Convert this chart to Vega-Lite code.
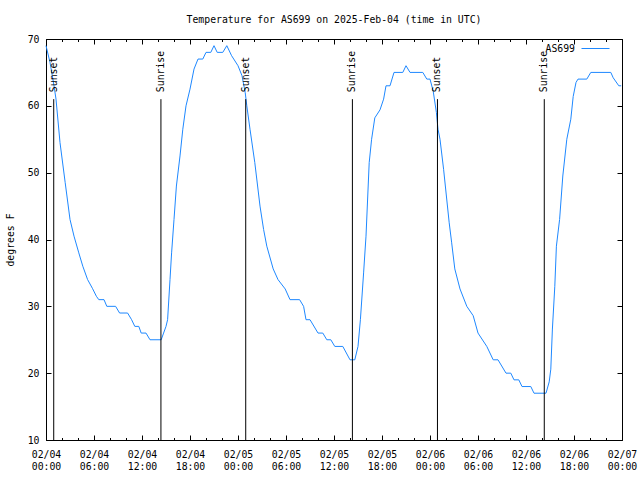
{
  "$schema": "https://vega.github.io/schema/vega-lite/v6.json",
  "width": 576,
  "height": 401,
  "autosize": "none",
  "padding": {"left": 46, "top": 39, "right": 18, "bottom": 40},
  "background": "white",
  "config": {
    "font": "DejaVu Sans Mono",
    "view": {"stroke": "black", "strokeWidth": 1},
    "axis": {
      "domain": false,
      "grid": false,
      "labelFont": "DejaVu Sans Mono",
      "labelFontSize": 9.8,
      "labelColor": "black",
      "tickColor": "black",
      "tickWidth": 1,
      "titleFont": "DejaVu Sans Mono",
      "titleFontSize": 9.8,
      "titleFontWeight": "normal",
      "titleColor": "black"
    },
    "text": {"font": "DejaVu Sans Mono", "fontSize": 9.8, "color": "black"}
  },
  "title": {
    "text": "Temperature for AS699 on 2025-Feb-04 (time in UTC)",
    "font": "DejaVu Sans Mono",
    "fontSize": 9.8,
    "fontWeight": "normal",
    "color": "black",
    "anchor": "middle",
    "offset": 9
  },
  "datasets": {
    "temps": [
      {"t": "2025-02-04T00:00:00Z", "temp": 69, "series": "AS699"},
      {"t": "2025-02-04T00:30:00Z", "temp": 66.5, "series": "AS699"},
      {"t": "2025-02-04T01:00:00Z", "temp": 63, "series": "AS699"},
      {"t": "2025-02-04T01:15:00Z", "temp": 61, "series": "AS699"},
      {"t": "2025-02-04T01:45:00Z", "temp": 54.5, "series": "AS699"},
      {"t": "2025-02-04T02:24:00Z", "temp": 48.5, "series": "AS699"},
      {"t": "2025-02-04T03:00:00Z", "temp": 43, "series": "AS699"},
      {"t": "2025-02-04T03:30:00Z", "temp": 40.5, "series": "AS699"},
      {"t": "2025-02-04T04:06:00Z", "temp": 38, "series": "AS699"},
      {"t": "2025-02-04T04:36:00Z", "temp": 36, "series": "AS699"},
      {"t": "2025-02-04T05:12:00Z", "temp": 34, "series": "AS699"},
      {"t": "2025-02-04T05:48:00Z", "temp": 32.7, "series": "AS699"},
      {"t": "2025-02-04T06:18:00Z", "temp": 31.5, "series": "AS699"},
      {"t": "2025-02-04T06:36:00Z", "temp": 31, "series": "AS699"},
      {"t": "2025-02-04T07:15:00Z", "temp": 31, "series": "AS699"},
      {"t": "2025-02-04T07:36:00Z", "temp": 30, "series": "AS699"},
      {"t": "2025-02-04T08:42:00Z", "temp": 30, "series": "AS699"},
      {"t": "2025-02-04T09:12:00Z", "temp": 29, "series": "AS699"},
      {"t": "2025-02-04T10:12:00Z", "temp": 29, "series": "AS699"},
      {"t": "2025-02-04T10:42:00Z", "temp": 28, "series": "AS699"},
      {"t": "2025-02-04T11:06:00Z", "temp": 27, "series": "AS699"},
      {"t": "2025-02-04T11:36:00Z", "temp": 27, "series": "AS699"},
      {"t": "2025-02-04T11:54:00Z", "temp": 26, "series": "AS699"},
      {"t": "2025-02-04T12:30:00Z", "temp": 26, "series": "AS699"},
      {"t": "2025-02-04T13:00:00Z", "temp": 25, "series": "AS699"},
      {"t": "2025-02-04T14:24:00Z", "temp": 25, "series": "AS699"},
      {"t": "2025-02-04T14:42:00Z", "temp": 26, "series": "AS699"},
      {"t": "2025-02-04T15:00:00Z", "temp": 27, "series": "AS699"},
      {"t": "2025-02-04T15:12:00Z", "temp": 28, "series": "AS699"},
      {"t": "2025-02-04T15:30:00Z", "temp": 34, "series": "AS699"},
      {"t": "2025-02-04T15:42:00Z", "temp": 38, "series": "AS699"},
      {"t": "2025-02-04T16:00:00Z", "temp": 43, "series": "AS699"},
      {"t": "2025-02-04T16:18:00Z", "temp": 48, "series": "AS699"},
      {"t": "2025-02-04T16:45:00Z", "temp": 52.5, "series": "AS699"},
      {"t": "2025-02-04T17:06:00Z", "temp": 56.5, "series": "AS699"},
      {"t": "2025-02-04T17:30:00Z", "temp": 60, "series": "AS699"},
      {"t": "2025-02-04T18:00:00Z", "temp": 62.5, "series": "AS699"},
      {"t": "2025-02-04T18:30:00Z", "temp": 65.5, "series": "AS699"},
      {"t": "2025-02-04T19:00:00Z", "temp": 67, "series": "AS699"},
      {"t": "2025-02-04T19:36:00Z", "temp": 67, "series": "AS699"},
      {"t": "2025-02-04T20:00:00Z", "temp": 68, "series": "AS699"},
      {"t": "2025-02-04T20:36:00Z", "temp": 68, "series": "AS699"},
      {"t": "2025-02-04T21:00:00Z", "temp": 69, "series": "AS699"},
      {"t": "2025-02-04T21:24:00Z", "temp": 68, "series": "AS699"},
      {"t": "2025-02-04T22:06:00Z", "temp": 68, "series": "AS699"},
      {"t": "2025-02-04T22:36:00Z", "temp": 69, "series": "AS699"},
      {"t": "2025-02-04T23:12:00Z", "temp": 67.5, "series": "AS699"},
      {"t": "2025-02-05T00:00:00Z", "temp": 66, "series": "AS699"},
      {"t": "2025-02-05T00:30:00Z", "temp": 64.5, "series": "AS699"},
      {"t": "2025-02-05T00:54:00Z", "temp": 62, "series": "AS699"},
      {"t": "2025-02-05T01:06:00Z", "temp": 60, "series": "AS699"},
      {"t": "2025-02-05T01:30:00Z", "temp": 56.5, "series": "AS699"},
      {"t": "2025-02-05T02:06:00Z", "temp": 51.5, "series": "AS699"},
      {"t": "2025-02-05T02:45:00Z", "temp": 45, "series": "AS699"},
      {"t": "2025-02-05T03:12:00Z", "temp": 41.5, "series": "AS699"},
      {"t": "2025-02-05T03:36:00Z", "temp": 39, "series": "AS699"},
      {"t": "2025-02-05T04:24:00Z", "temp": 35.6, "series": "AS699"},
      {"t": "2025-02-05T05:00:00Z", "temp": 34, "series": "AS699"},
      {"t": "2025-02-05T05:54:00Z", "temp": 32.6, "series": "AS699"},
      {"t": "2025-02-05T06:30:00Z", "temp": 31, "series": "AS699"},
      {"t": "2025-02-05T07:42:00Z", "temp": 31, "series": "AS699"},
      {"t": "2025-02-05T08:12:00Z", "temp": 30, "series": "AS699"},
      {"t": "2025-02-05T08:30:00Z", "temp": 28, "series": "AS699"},
      {"t": "2025-02-05T09:00:00Z", "temp": 28, "series": "AS699"},
      {"t": "2025-02-05T10:00:00Z", "temp": 26, "series": "AS699"},
      {"t": "2025-02-05T10:36:00Z", "temp": 26, "series": "AS699"},
      {"t": "2025-02-05T11:06:00Z", "temp": 25, "series": "AS699"},
      {"t": "2025-02-05T11:36:00Z", "temp": 25, "series": "AS699"},
      {"t": "2025-02-05T12:06:00Z", "temp": 24, "series": "AS699"},
      {"t": "2025-02-05T13:06:00Z", "temp": 24, "series": "AS699"},
      {"t": "2025-02-05T14:00:00Z", "temp": 22, "series": "AS699"},
      {"t": "2025-02-05T14:36:00Z", "temp": 22, "series": "AS699"},
      {"t": "2025-02-05T15:00:00Z", "temp": 24, "series": "AS699"},
      {"t": "2025-02-05T15:18:00Z", "temp": 28, "series": "AS699"},
      {"t": "2025-02-05T15:42:00Z", "temp": 35, "series": "AS699"},
      {"t": "2025-02-05T16:00:00Z", "temp": 40.5, "series": "AS699"},
      {"t": "2025-02-05T16:24:00Z", "temp": 51.5, "series": "AS699"},
      {"t": "2025-02-05T16:42:00Z", "temp": 55, "series": "AS699"},
      {"t": "2025-02-05T17:06:00Z", "temp": 58.2, "series": "AS699"},
      {"t": "2025-02-05T17:45:00Z", "temp": 59.4, "series": "AS699"},
      {"t": "2025-02-05T18:12:00Z", "temp": 61, "series": "AS699"},
      {"t": "2025-02-05T18:30:00Z", "temp": 63, "series": "AS699"},
      {"t": "2025-02-05T19:00:00Z", "temp": 63, "series": "AS699"},
      {"t": "2025-02-05T19:30:00Z", "temp": 65, "series": "AS699"},
      {"t": "2025-02-05T20:36:00Z", "temp": 65, "series": "AS699"},
      {"t": "2025-02-05T21:00:00Z", "temp": 66, "series": "AS699"},
      {"t": "2025-02-05T21:30:00Z", "temp": 65, "series": "AS699"},
      {"t": "2025-02-05T23:06:00Z", "temp": 65, "series": "AS699"},
      {"t": "2025-02-05T23:36:00Z", "temp": 64, "series": "AS699"},
      {"t": "2025-02-06T00:00:00Z", "temp": 64, "series": "AS699"},
      {"t": "2025-02-06T00:24:00Z", "temp": 62.2, "series": "AS699"},
      {"t": "2025-02-06T00:48:00Z", "temp": 59, "series": "AS699"},
      {"t": "2025-02-06T01:00:00Z", "temp": 56.5, "series": "AS699"},
      {"t": "2025-02-06T01:15:00Z", "temp": 55, "series": "AS699"},
      {"t": "2025-02-06T01:42:00Z", "temp": 50.5, "series": "AS699"},
      {"t": "2025-02-06T02:24:00Z", "temp": 42.5, "series": "AS699"},
      {"t": "2025-02-06T02:42:00Z", "temp": 39.6, "series": "AS699"},
      {"t": "2025-02-06T03:06:00Z", "temp": 35.6, "series": "AS699"},
      {"t": "2025-02-06T03:45:00Z", "temp": 32.6, "series": "AS699"},
      {"t": "2025-02-06T04:36:00Z", "temp": 30, "series": "AS699"},
      {"t": "2025-02-06T05:24:00Z", "temp": 28.6, "series": "AS699"},
      {"t": "2025-02-06T06:00:00Z", "temp": 26, "series": "AS699"},
      {"t": "2025-02-06T07:06:00Z", "temp": 24, "series": "AS699"},
      {"t": "2025-02-06T07:54:00Z", "temp": 22, "series": "AS699"},
      {"t": "2025-02-06T08:30:00Z", "temp": 22, "series": "AS699"},
      {"t": "2025-02-06T09:30:00Z", "temp": 20, "series": "AS699"},
      {"t": "2025-02-06T10:06:00Z", "temp": 20, "series": "AS699"},
      {"t": "2025-02-06T10:30:00Z", "temp": 19, "series": "AS699"},
      {"t": "2025-02-06T11:06:00Z", "temp": 19, "series": "AS699"},
      {"t": "2025-02-06T11:30:00Z", "temp": 18, "series": "AS699"},
      {"t": "2025-02-06T12:36:00Z", "temp": 18, "series": "AS699"},
      {"t": "2025-02-06T13:00:00Z", "temp": 17, "series": "AS699"},
      {"t": "2025-02-06T14:30:00Z", "temp": 17, "series": "AS699"},
      {"t": "2025-02-06T14:54:00Z", "temp": 18.7, "series": "AS699"},
      {"t": "2025-02-06T15:06:00Z", "temp": 20.6, "series": "AS699"},
      {"t": "2025-02-06T15:18:00Z", "temp": 26.6, "series": "AS699"},
      {"t": "2025-02-06T15:36:00Z", "temp": 33, "series": "AS699"},
      {"t": "2025-02-06T15:48:00Z", "temp": 39, "series": "AS699"},
      {"t": "2025-02-06T16:12:00Z", "temp": 43, "series": "AS699"},
      {"t": "2025-02-06T16:36:00Z", "temp": 49.5, "series": "AS699"},
      {"t": "2025-02-06T17:06:00Z", "temp": 55, "series": "AS699"},
      {"t": "2025-02-06T17:36:00Z", "temp": 58, "series": "AS699"},
      {"t": "2025-02-06T17:54:00Z", "temp": 61.4, "series": "AS699"},
      {"t": "2025-02-06T18:15:00Z", "temp": 63.5, "series": "AS699"},
      {"t": "2025-02-06T18:30:00Z", "temp": 64, "series": "AS699"},
      {"t": "2025-02-06T19:36:00Z", "temp": 64, "series": "AS699"},
      {"t": "2025-02-06T20:06:00Z", "temp": 65, "series": "AS699"},
      {"t": "2025-02-06T22:36:00Z", "temp": 65, "series": "AS699"},
      {"t": "2025-02-06T22:54:00Z", "temp": 64.2, "series": "AS699"},
      {"t": "2025-02-06T23:36:00Z", "temp": 63, "series": "AS699"},
      {"t": "2025-02-06T23:54:00Z", "temp": 63, "series": "AS699"}
    ],
    "events": [
      {"t": "2025-02-04T00:58:00Z", "event": "Sunset"},
      {"t": "2025-02-04T14:22:00Z", "event": "Sunrise"},
      {"t": "2025-02-05T00:58:00Z", "event": "Sunset"},
      {"t": "2025-02-05T14:18:00Z", "event": "Sunrise"},
      {"t": "2025-02-06T00:56:00Z", "event": "Sunset"},
      {"t": "2025-02-06T14:17:00Z", "event": "Sunrise"}
    ]
  },
  "layer": [
    {
      "data": {"name": "temps"},
      "mark": {"type": "line", "strokeWidth": 1, "interpolate": "linear"},
      "encoding": {
        "x": {
          "field": "t",
          "type": "temporal",
          "scale": {"type": "utc", "domain": [1738627200000, 1738886400000]},
          "axis": {
            "orient": "bottom",
            "title": null,
            "values": [1738627200000, 1738648800000, 1738670400000, 1738692000000, 1738713600000, 1738735200000, 1738756800000, 1738778400000, 1738800000000, 1738821600000, 1738843200000, 1738864800000, 1738886400000],
            "tickSize": -5,
            "labelExpr": "[utcFormat(datum.value, '%m/%d'), utcFormat(datum.value, '%H:%M')]",
            "labelPadding": 14,
            "labelLineHeight": 12,
            "labelBaseline": "top",
            "labelFlush": false,
            "labelOverlap": false,
            "labelBound": false
          }
        },
        "y": {
          "field": "temp",
          "type": "quantitative",
          "scale": {"domain": [10, 70], "nice": false, "zero": false},
          "axis": {
            "orient": "left",
            "title": "degrees F",
            "values": [10, 20, 30, 40, 50, 60, 70],
            "tickSize": -5,
            "labelPadding": 12,
            "titlePadding": 12
          }
        },
        "color": {
          "field": "series",
          "type": "nominal",
          "scale": {"range": ["#1e88ff"]},
          "legend": {
            "title": null,
            "orient": "none",
            "legendX": 535,
            "legendY": -5,
            "padding": 0,
            "symbolType": "stroke",
            "symbolSize": 784,
            "symbolStrokeWidth": 1,
            "labelAlign": "right",
            "labelOffset": -35,
            "labelFont": "DejaVu Sans Mono",
            "labelFontSize": 9.8,
            "labelColor": "black"
          }
        }
      }
    },
    {
      "data": {"name": "events"},
      "transform": [{"filter": "datum.event === 'Sunset'"}],
      "mark": {"type": "rule", "color": "black", "strokeWidth": 1},
      "encoding": {
        "x": {
          "field": "t",
          "type": "temporal",
          "axis": {
            "orient": "top",
            "title": null,
            "labels": false,
            "values": [1738627200000, 1738648800000, 1738670400000, 1738692000000, 1738713600000, 1738735200000, 1738756800000, 1738778400000, 1738800000000, 1738821600000, 1738843200000, 1738864800000, 1738886400000],
            "tickSize": -5
          }
        },
        "y": {
          "datum": 10,
          "type": "quantitative",
          "axis": {
            "orient": "right",
            "title": null,
            "labels": false,
            "values": [10, 20, 30, 40, 50, 60, 70],
            "tickSize": -5
          }
        },
        "y2": {"datum": 61}
      }
    },
    {
      "data": {"name": "events"},
      "transform": [{"filter": "datum.event === 'Sunrise'"}],
      "mark": {"type": "rule", "color": "black", "strokeWidth": 1},
      "encoding": {
        "x": {
          "field": "t",
          "type": "temporal",
          "axis": {
            "orient": "bottom",
            "title": null,
            "labels": false,
            "values": [1738627200000, 1738634400000, 1738641600000, 1738648800000, 1738656000000, 1738663200000, 1738670400000, 1738677600000, 1738684800000, 1738692000000, 1738699200000, 1738706400000, 1738713600000, 1738720800000, 1738728000000, 1738735200000, 1738742400000, 1738749600000, 1738756800000, 1738764000000, 1738771200000, 1738778400000, 1738785600000, 1738792800000, 1738800000000, 1738807200000, 1738814400000, 1738821600000, 1738828800000, 1738836000000, 1738843200000, 1738850400000, 1738857600000, 1738864800000, 1738872000000, 1738879200000, 1738886400000],
            "tickSize": -2.5
          }
        },
        "y": {"datum": 10, "type": "quantitative", "axis": null},
        "y2": {"datum": 61}
      }
    },
    {
      "data": {"name": "events"},
      "mark": {"type": "text", "angle": 270, "align": "left", "baseline": "middle", "dx": 7},
      "encoding": {
        "x": {
          "field": "t",
          "type": "temporal",
          "axis": {
            "orient": "top",
            "title": null,
            "labels": false,
            "values": [1738627200000, 1738634400000, 1738641600000, 1738648800000, 1738656000000, 1738663200000, 1738670400000, 1738677600000, 1738684800000, 1738692000000, 1738699200000, 1738706400000, 1738713600000, 1738720800000, 1738728000000, 1738735200000, 1738742400000, 1738749600000, 1738756800000, 1738764000000, 1738771200000, 1738778400000, 1738785600000, 1738792800000, 1738800000000, 1738807200000, 1738814400000, 1738821600000, 1738828800000, 1738836000000, 1738843200000, 1738850400000, 1738857600000, 1738864800000, 1738872000000, 1738879200000, 1738886400000],
            "tickSize": -2.5
          }
        },
        "y": {"datum": 61, "type": "quantitative", "axis": null},
        "text": {"field": "event"}
      }
    }
  ],
  "resolve": {"axis": {"x": "independent", "y": "independent"}}
}
